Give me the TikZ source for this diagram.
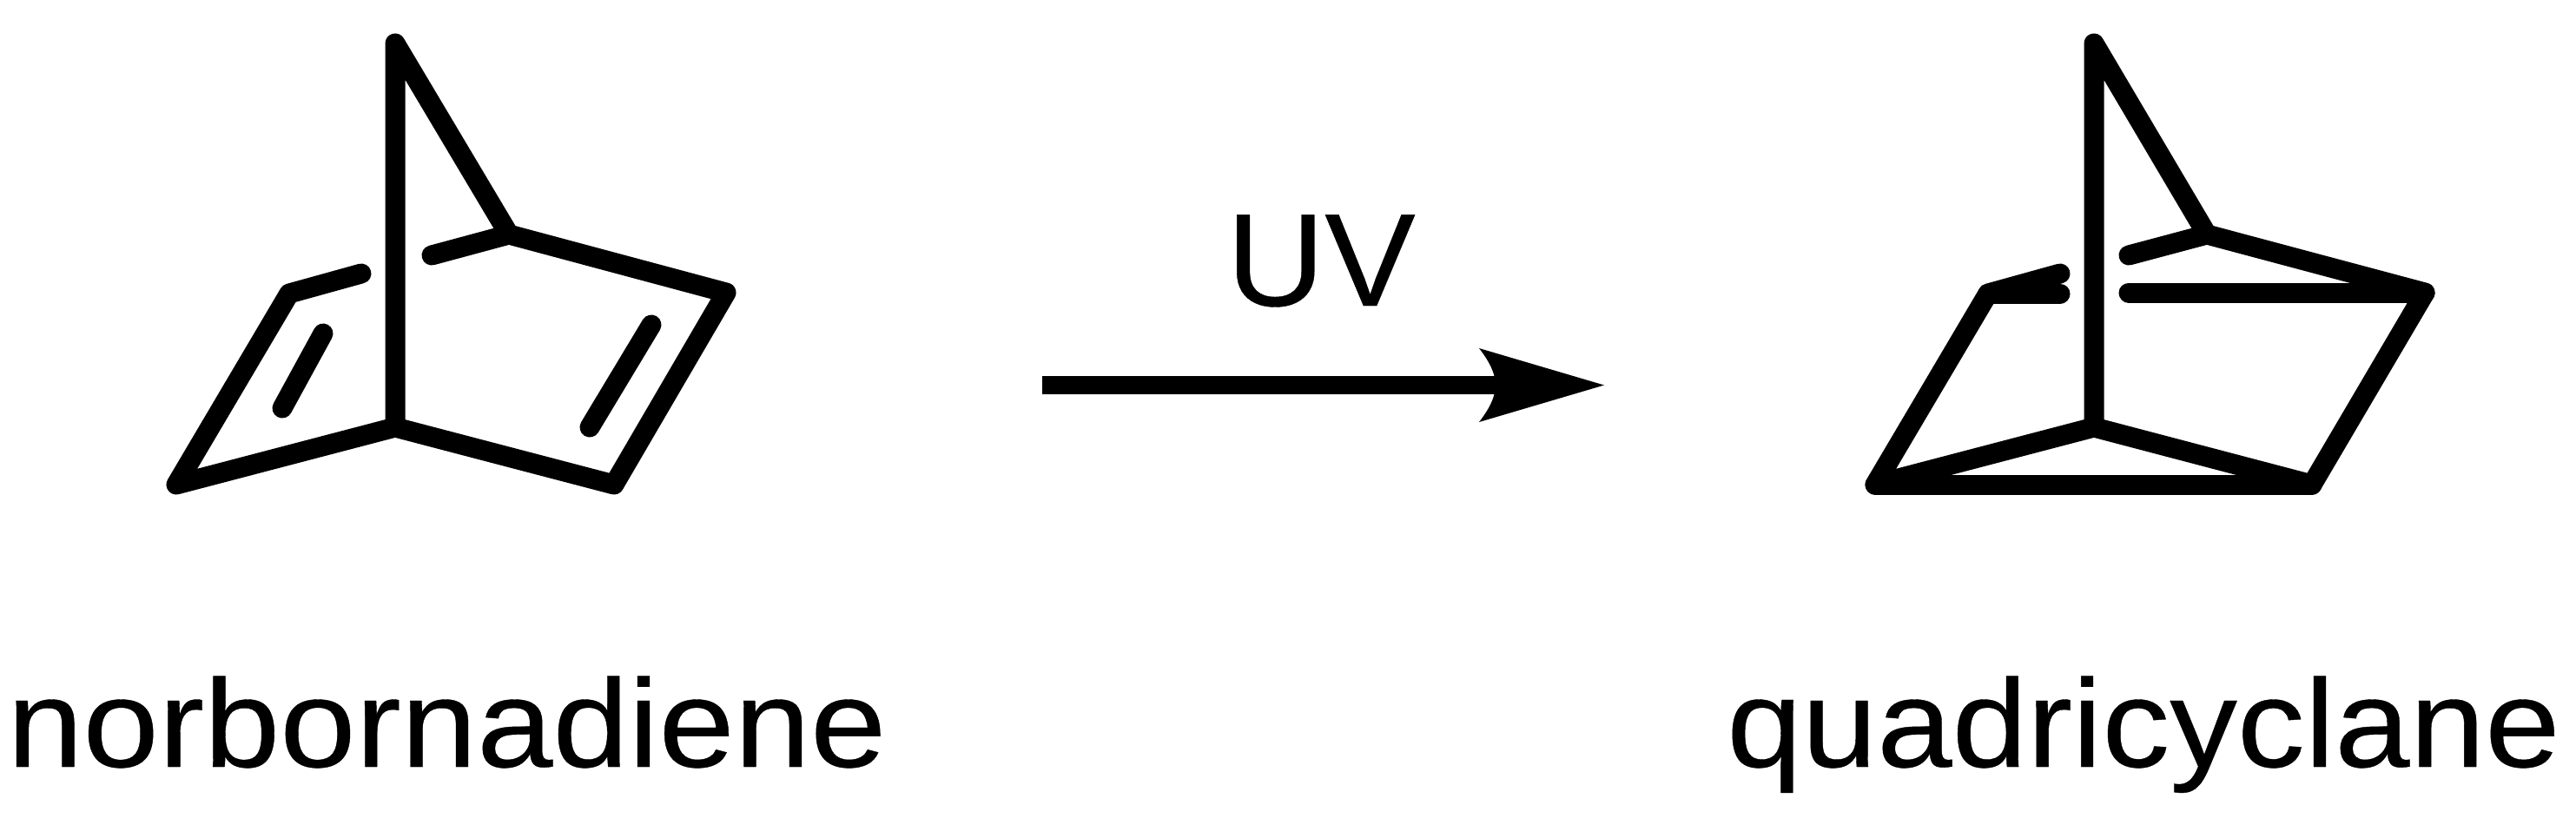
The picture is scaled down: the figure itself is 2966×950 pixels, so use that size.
\documentclass[tikz,border=0pt]{standalone}
\usepackage{fontspec}
\setmainfont[FakeBold=0.25]{Liberation Sans}
\tikzset{
  bond/.style={draw=black,line width=23pt,line cap=round,line join=round},
  shaft/.style={draw=black,line width=21pt},
  head/.style={fill=black,draw=none},
  lab/.style={inner sep=0pt,anchor=base west,xscale=1.09,font=\fontsize{144}{150}\selectfont},
  lab2/.style={inner sep=0pt,anchor=base west,xscale=1.08,font=\fontsize{144}{150}\selectfont},
  uvlab/.style={inner sep=0pt,anchor=base,xscale=1.03,font=\fontsize{152}{158}\selectfont}
}
\begin{document}
\begin{tikzpicture}[x=1pt,y=-1pt]
\useasboundingbox (0,0) rectangle (2966,950);
% norbornadiene
\coordinate (aT) at (455,50);
\coordinate (aB) at (455,492);
\coordinate (aR) at (586,270);
\coordinate (aRT) at (836,337);
\coordinate (aRB) at (707,558);
\coordinate (aLB) at (203,558);
\coordinate (aLT) at (333,338);
\coordinate (aLS) at (416,315);
\coordinate (aRS) at (497,294);
\coordinate (aD1) at (372,384);
\coordinate (aD2) at (325,470);
\coordinate (aD3) at (750,374);
\coordinate (aD4) at (679,492);
\draw[bond] (aB) -- (aT) -- (aR) -- (aRT) -- (aRB) -- (aB) -- (aLB) -- (aLT) -- (aLS);
\draw[bond] (aR) -- (aRS);
\draw[bond] (aD1) -- (aD2);
\draw[bond] (aD3) -- (aD4);
% quadricyclane
\coordinate (bT) at (2411,50);
\coordinate (bB) at (2411,492);
\coordinate (bR) at (2541,270);
\coordinate (bRT) at (2792,337);
\coordinate (bRB) at (2662,558);
\coordinate (bLB) at (2159,558);
\coordinate (bLT) at (2289,338);
\coordinate (bLS) at (2372,315);
\coordinate (bLH) at (2372,338);
\coordinate (bRS) at (2451,294);
\coordinate (bRH) at (2451,337);
\draw[bond] (bB) -- (bT) -- (bR) -- (bRT) -- (bRB) -- (bB) -- (bLB) -- (bLT) -- (bLS);
\draw[bond] (bR) -- (bRS);
\draw[bond] (bLT) -- (bLH);
\draw[bond] (bRH) -- (bRT);
\draw[bond] (bLB) -- (bRB);
% arrow
\coordinate (arS) at (1200,443.5);
\coordinate (arN) at (1722,443.5);
\coordinate (arU) at (1703,401);
\coordinate (arL) at (1703,486);
\coordinate (arTip) at (1847,443.5);
\draw[shaft] (arS) -- (arN);
\fill[head] (arTip) -- (arU) .. controls (1714,415) and (1722,430) .. (arN) .. controls (1722,457) and (1714,472) .. (arL) -- cycle;
% labels
\node[uvlab] (uv) at (1521,352) {UV};
\node[lab] (nbd) at (8,883) {norbornadiene};
\node[lab2] (qc) at (1988,883) {quadricyclane};
\end{tikzpicture}
\end{document}
